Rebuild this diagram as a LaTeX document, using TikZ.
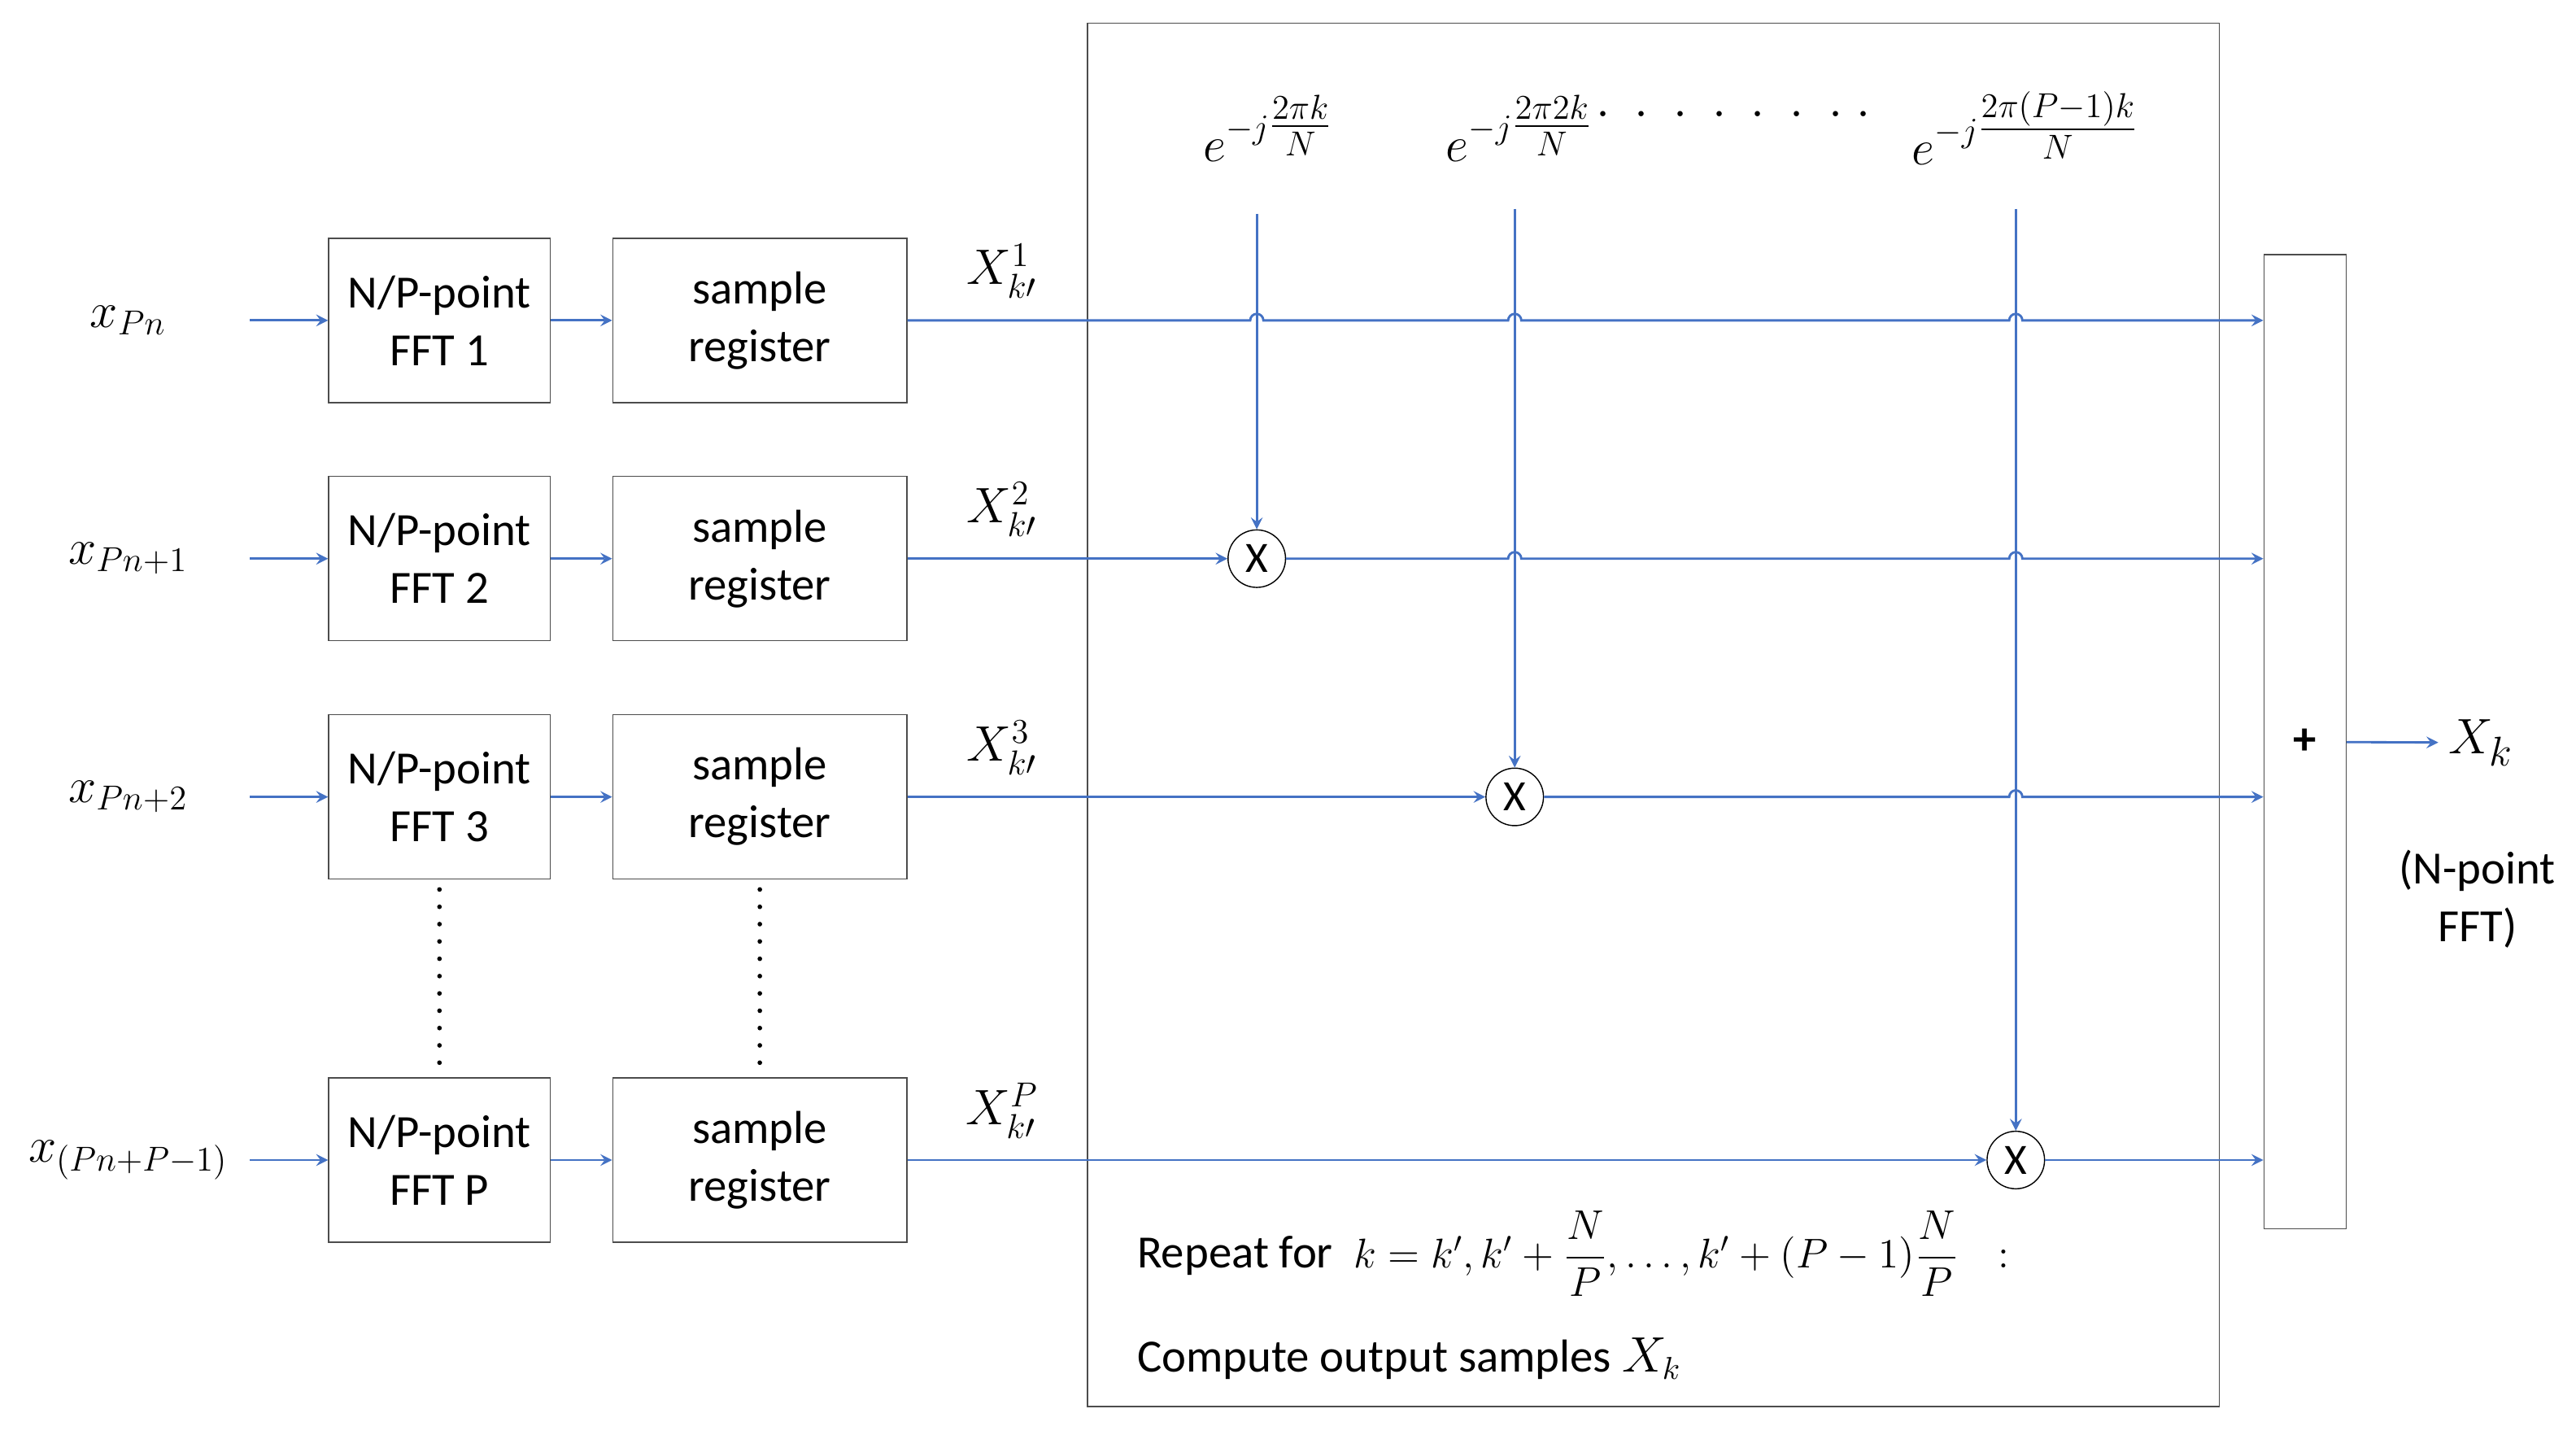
\documentclass[tikz,border=0pt]{standalone}
\usepackage{fontspec,amsmath}
\setmainfont{Carlito}
\usetikzlibrary{arrows,calc}
\definecolor{lineblue}{RGB}{68,114,196}
\tikzstyle{block} = [rectangle, draw=black!70, thin, minimum height=2cm, align=center, font=\fontsize{16}{20}\selectfont]
\tikzstyle{fftbox} = [block, minimum width=2.7cm]
\tikzstyle{regbox} = [block, minimum width=3.58cm]
\tikzstyle{mult} = [circle, draw=black, thin, minimum size=0.7cm, inner sep=0, font=\fontsize{15}{18}\selectfont]
\tikzstyle{sig} = [lineblue, thick, ->, >=stealth]
\tikzstyle{lbl} = [font=\fontsize{17}{20}\selectfont]
\tikzstyle{dotcol} = [black, line width=1.6pt, dash pattern=on 0pt off 6pt, line cap=round]
\begin{document}
\begin{tikzpicture}[x=0.02cm,y=-0.02cm]
\useasboundingbox (0,0) rectangle (1568,873);
\draw[black!70, thin] (662,14) rectangle (1351,856);
\node[draw=black!70, thin, minimum width=1cm, minimum height=11.86cm] (sum) at (1403,451.5) {\fontsize{16}{20}\selectfont\textbf{+}};

\foreach \i/\y/\inp/\nm in {1/195/{x_{Pn}}/1, 2/340/{x_{Pn+1}}/2, 3/485/{x_{Pn+2}}/3, 4/706/{x_{(Pn+P-1)}}/P}{
	\node[lbl] (in\i) at (78,\y) {$\inp$};
	\node[fftbox] (fft\i) at (267.5,\y) {N/P-point\\FFT \nm};
	\node[regbox] (reg\i) at (462.5,\y) {sample\\register};
	\node[lbl] (X\i) at (610,\y-30) {$X_{k\prime}^{\nm}$};
	\coordinate (s\i) at (152,\y);
	\draw[sig] (s\i) -- (fft\i);
	\draw[sig] (fft\i) -- (reg\i);
	}

% multipliers and twiddle factors
\node[mult] (mul1) at (765,340) {X};
\node[mult] (mul2) at (922,485) {X};
\node[mult] (mul3) at (1227,706) {X};
\node[lbl] (w1) at (772,78) {$e^{-j\tfrac{2\pi k}{N}}$};
\node[lbl] (w2) at (925,78) {$e^{-j\tfrac{2\pi 2k}{N}}$};
\node[lbl] (w3) at (1233,78) {$e^{-j\tfrac{2\pi (P-1)k}{N}}$};
\node[lbl] (wdots) at (1055,70) {$\cdot\;\cdot\;\cdot\;\cdot\;\cdot\;\cdot\;\cdot\;\cdot$};
\coordinate (t1) at (765,130);
\coordinate (t2) at (922,127);
\coordinate (t3) at (1227,127);
\draw[sig] (t1) -- (mul1);
\draw[sig] (t2) -- (mul2);
\draw[sig] (t3) -- (mul3);

% rows into the adder, hopping over the crossings
\draw[sig] (reg1.east) -- ($(reg1.east -| mul1)+(-4,0)$) arc(180:360:4)
	-- ($(reg1.east -| mul2)+(-4,0)$) arc(180:360:4)
	-- ($(reg1.east -| mul3)+(-4,0)$) arc(180:360:4) -- (reg1.east -| sum.west);
\draw[sig] (reg2) -- (mul1);
\draw[sig] (mul1) -- ($(mul1 -| mul2)+(-4,0)$) arc(180:360:4)
	-- ($(mul1 -| mul3)+(-4,0)$) arc(180:360:4) -- (mul1 -| sum.west);
\draw[sig] (reg3) -- (mul2);
\draw[sig] (mul2) -- ($(mul2 -| mul3)+(-4,0)$) arc(180:360:4) -- (mul2 -| sum.west);
\draw[sig] (reg4) -- (mul3);
\draw[sig] (mul3) -- (mul3 -| sum.west);

% output
\node[lbl, font=\fontsize{19}{22}\selectfont] (Xk) at (1510,452) {$X_k$};
\draw[sig] (sum) -- (Xk);
\node[align=center, font=\fontsize{16}{20}\selectfont] (npt) at (1508,547) {(N-point\\FFT)};

\draw[dotcol] ($(fft3.south)+(0,6)$) -- ($(fft4.north)+(0,-4)$);
\draw[dotcol] ($(reg3.south)+(0,6)$) -- ($(reg4.north)+(0,-4)$);

\node[anchor=west, font=\fontsize{16}{20}\selectfont] (rep) at (686,763) {Repeat for \ {\fontsize{14}{18}\selectfont$k=k',k'+\dfrac{N}{P},\ldots,k'+(P-1)\dfrac{N}{P}\ \ \ :$}};
\node[anchor=west, font=\fontsize{16}{20}\selectfont] (comp) at (686,827) {Compute output samples $X_k$};
\end{tikzpicture}
\end{document}
